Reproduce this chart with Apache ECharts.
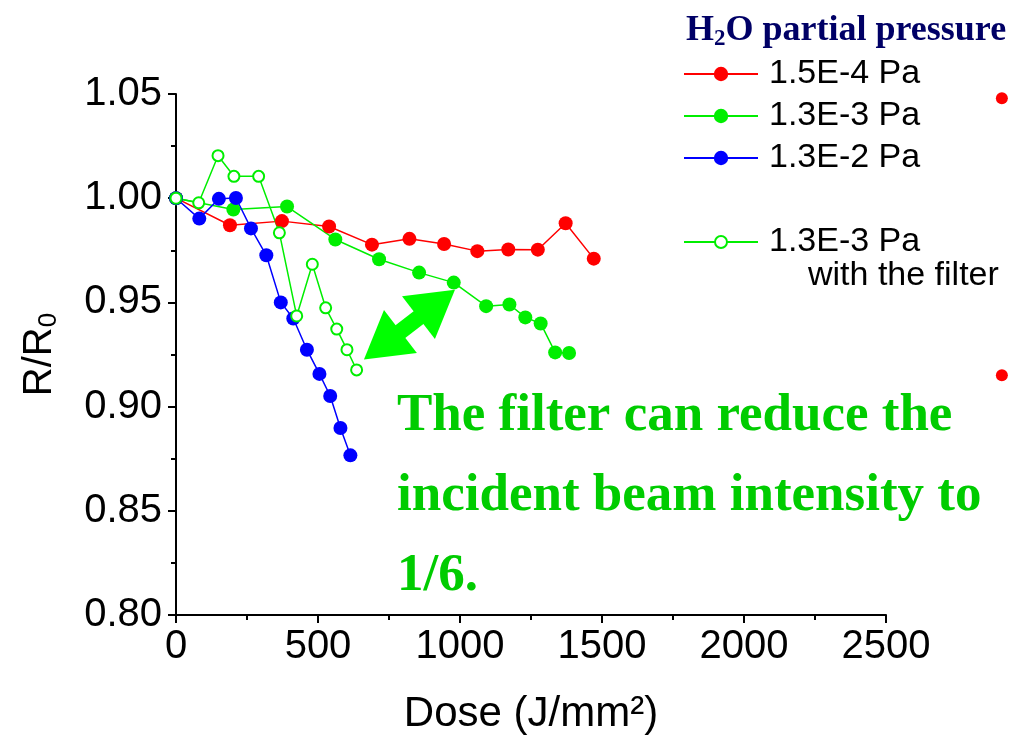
<!DOCTYPE html>
<html>
<head>
<meta charset="utf-8">
<script src="https://cdn.jsdelivr.net/npm/echarts@6/dist/echarts.min.js"></script>
<style>
html,body{margin:0;padding:0;background:#fff;}
#chart{width:1016px;height:740px;}
</style>
</head>
<body>
<div id="chart"></div>
<script>
// ---- data ----
const seriesNames = ['1.5E-4 Pa', '1.3E-3 Pa', '1.3E-2 Pa', '1.3E-3 Pa with the filter'];

const doseRed  = [0, 190, 373, 539, 690, 822, 944, 1061, 1170, 1274, 1372, 1471];
const ratioRed = [1.000, 0.987, 0.989, 0.9864, 0.9777, 0.9805, 0.978, 0.9746, 0.9754, 0.9753, 0.988, 0.971];

const doseGreen  = [0, 202, 391, 561, 715, 856, 978, 1092, 1174, 1230, 1284, 1335, 1384];
const ratioGreen = [1.000, 0.9946, 0.996, 0.9802, 0.9707, 0.9643, 0.9595, 0.9482, 0.949, 0.9428, 0.9399, 0.926, 0.9257];

const doseBlue  = [0, 82, 151, 211, 264, 318, 369, 413, 461, 505, 543, 579, 614];
const ratioBlue = [1.000, 0.9902, 0.9997, 1.0001, 0.9855, 0.9726, 0.950, 0.9423, 0.9273, 0.9157, 0.9051, 0.8897, 0.8766];

const doseFilter  = [0, 80, 148, 204, 291, 364, 425, 480, 527, 566, 602, 636];
const ratioFilter = [1.000, 0.9978, 1.0204, 1.0105, 1.0105, 0.9834, 0.9435, 0.9683, 0.9474, 0.9372, 0.9273, 0.9176];

// stray points at the right edge of the original picture
const doseStray  = [2908, 2908];
const ratioStray = [1.048, 0.915];

// double-headed arrow annotation (data coordinates)
const arrowDose  = [726, 918];
const arrowRatio = [0.9293, 0.9494];

const xTicks = {min: 0, max: 2500, interval: 500};
const yTicks = {min: 0.80, max: 1.05, interval: 0.05};

const noteLines = ['The filter can reduce the', 'incident beam intensity to', '1/6.'];

// ---- chart ----
const zip = (a, b) => a.map((v, i) => [v, b[i]]);
const sans = 'Liberation Sans, Arial, sans-serif';
const serif = 'Liberation Serif, Times New Roman, serif';
const RED = '#ff0000', GREEN = '#00ee00', BLUE = '#0000ff';

const chart = echarts.init(document.getElementById('chart'));
const legendText = {fontSize: 34, fontFamily: sans, color: '#000', lineHeight: 36, padding: [0, 0, 0, 6]};

chart.setOption({
  animation: false,
  backgroundColor: '#fff',
  title: {
    text: '{a|H}{s|2}{a|O partial pressure}',
    left: 681, top: 6,
    textStyle: {
      rich: {
        a: {fontFamily: serif, fontWeight: 'bold', fontSize: 36, color: '#000066', lineHeight: 40},
        s: {fontFamily: serif, fontWeight: 'bold', fontSize: 23, color: '#000066', lineHeight: 22, verticalAlign: 'bottom'}
      }
    }
  },
  legend: [
    {
      data: seriesNames.slice(0, 3), orient: 'vertical', left: 678, top: 51,
      itemWidth: 74, itemHeight: 18, itemGap: 6, textStyle: legendText, selectedMode: false
    },
    {
      data: [seriesNames[3]], orient: 'vertical', left: 678, top: 219,
      itemWidth: 74, itemHeight: 15, textStyle: legendText, selectedMode: false,
      formatter: () => '1.3E-3 Pa'
    }
  ],
  graphic: [
    {
      type: 'text', left: 808, top: 259, silent: true,
      style: {text: 'with the filter', fontFamily: sans, fontSize: 34, fill: '#000'}
    },
    {
      type: 'text', left: 397, top: 376, silent: true,
      style: {text: noteLines.join('\n'), fontFamily: serif, fontWeight: 'bold', fontSize: 53, lineHeight: 80, fill: '#00cc00'}
    }
  ],
  grid: {left: 176, right: 130, top: 94, bottom: 123, containLabel: false},
  xAxis: {
    type: 'value', min: xTicks.min, max: xTicks.max, interval: xTicks.interval,
    name: 'Dose (J/mm²)', nameLocation: 'middle', nameGap: 78,
    nameTextStyle: {fontFamily: sans, fontSize: 42, color: '#000'},
    axisLine: {show: true, onZero: false, lineStyle: {color: '#000', width: 2}},
    axisTick: {show: true, inside: false, length: 8, lineStyle: {color: '#000', width: 2}},
    minorTick: {show: true, splitNumber: 2, length: 5, lineStyle: {color: '#000', width: 2}},
    splitLine: {show: false},
    axisLabel: {fontFamily: sans, fontSize: 40, color: '#000', margin: 12, formatter: v => String(v)}
  },
  yAxis: {
    type: 'value', min: yTicks.min, max: yTicks.max, interval: yTicks.interval,
    name: '{a|R/R}{s|0}', nameLocation: 'middle', nameGap: 114, nameRotate: 90,
    nameTextStyle: {
      rich: {
        a: {fontFamily: sans, fontSize: 40, color: '#000', lineHeight: 44},
        s: {fontFamily: sans, fontSize: 26, color: '#000', lineHeight: 26, verticalAlign: 'bottom'}
      }
    },
    axisLine: {show: true, onZero: false, lineStyle: {color: '#000', width: 2}},
    axisTick: {show: true, inside: false, length: 8, lineStyle: {color: '#000', width: 2}},
    minorTick: {show: true, splitNumber: 2, length: 5, lineStyle: {color: '#000', width: 2}},
    splitLine: {show: false},
    axisLabel: {fontFamily: sans, fontSize: 40, color: '#000', margin: 14, formatter: v => v.toFixed(2)}
  },
  series: [
    {
      name: seriesNames[0], type: 'line', data: zip(doseRed, ratioRed),
      symbol: 'circle', symbolSize: 14, itemStyle: {color: RED},
      lineStyle: {color: RED, width: 1.5}
    },
    {
      name: seriesNames[1], type: 'line', data: zip(doseGreen, ratioGreen),
      symbol: 'circle', symbolSize: 14, itemStyle: {color: GREEN},
      lineStyle: {color: GREEN, width: 1.5},
      markLine: {
        silent: true, animation: false,
        symbol: ['triangle', 'triangle'], symbolSize: [54, 46],
        label: {show: false},
        lineStyle: {color: '#00ff00', width: 16, type: 'solid'},
        emphasis: {disabled: true},
        data: [[{coord: [arrowDose[0], arrowRatio[0]]}, {coord: [arrowDose[1], arrowRatio[1]]}]]
      }
    },
    {
      name: seriesNames[2], type: 'line', data: zip(doseBlue, ratioBlue),
      symbol: 'circle', symbolSize: 14, itemStyle: {color: BLUE},
      lineStyle: {color: BLUE, width: 1.5}
    },
    {
      name: seriesNames[3], type: 'line', data: zip(doseFilter, ratioFilter),
      symbol: 'emptyCircle', symbolSize: 11, itemStyle: {color: GREEN, borderWidth: 1.5},
      lineStyle: {color: GREEN, width: 1.5}
    },
    {
      name: 'stray', type: 'scatter', data: zip(doseStray, ratioStray),
      symbol: 'circle', symbolSize: 12, itemStyle: {color: RED, opacity: 1}, clip: false, silent: true
    }
  ]
});
</script>
</body>
</html>
